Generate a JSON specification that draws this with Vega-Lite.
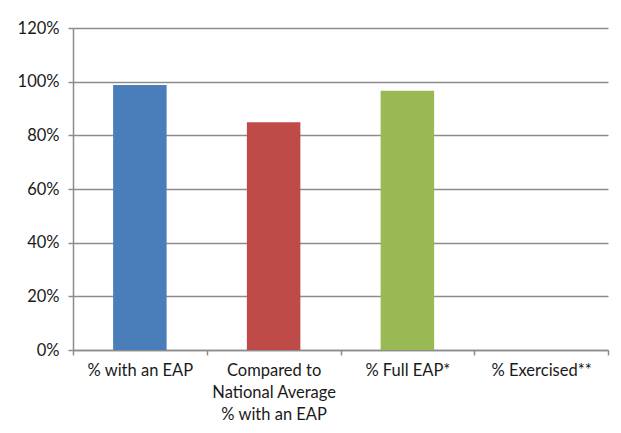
{
  "$schema": "https://vega.github.io/schema/vega-lite/v6.json",
  "width": 535,
  "height": 322,
  "autosize": {"type": "none"},
  "padding": {"left": 73, "top": 28, "right": 13, "bottom": 83},
  "background": "white",
  "data": {
    "values": [
      {"category": "% with an EAP", "value": 0.988, "order": 1},
      {"category": "Compared to|National Average|% with an EAP", "value": 0.849, "order": 2},
      {"category": "% Full EAP*", "value": 0.966, "order": 3},
      {"category": "% Exercised**", "value": null, "order": 4}
    ]
  },
  "mark": {"type": "bar", "width": {"band": 0.4}},
  "encoding": {
    "x": {
      "field": "category",
      "type": "nominal",
      "sort": {"field": "order"},
      "scale": {"paddingInner": 0, "paddingOuter": 0},
      "axis": {
        "title": null,
        "labelAngle": 0,
        "labelExpr": "split(datum.label, '|')",
        "tickBand": "extent",
        "tickSize": 5,
        "tickColor": "#8c8c8c",
        "tickWidth": 1.5,
        "domainColor": "#8c8c8c",
        "domainWidth": 1.5,
        "labelFont": "Lato",
        "labelFontSize": 16.5,
        "labelColor": "#1a1a1a",
        "labelPadding": 7,
        "labelLineHeight": 22,
        "labelLimit": 200
      }
    },
    "y": {
      "field": "value",
      "type": "quantitative",
      "scale": {"domain": [0, 1.2], "nice": false},
      "axis": {
        "title": null,
        "values": [0, 0.2, 0.4, 0.6, 0.8, 1.0, 1.2],
        "format": ".0%",
        "grid": true,
        "gridColor": "#8c8c8c",
        "gridWidth": 1.5,
        "tickSize": 5,
        "tickColor": "#8c8c8c",
        "tickWidth": 1.5,
        "domainColor": "#8c8c8c",
        "domainWidth": 1.5,
        "labelFont": "Lato",
        "labelFontSize": 16.5,
        "labelColor": "#1a1a1a",
        "labelPadding": 9
      }
    },
    "color": {
      "field": "category",
      "type": "nominal",
      "sort": {"field": "order"},
      "scale": {"range": ["#4a7ebb", "#be4b48", "#98b954", "#7d60a0"]},
      "legend": null
    }
  },
  "config": {
    "view": {"stroke": null}
  }
}
